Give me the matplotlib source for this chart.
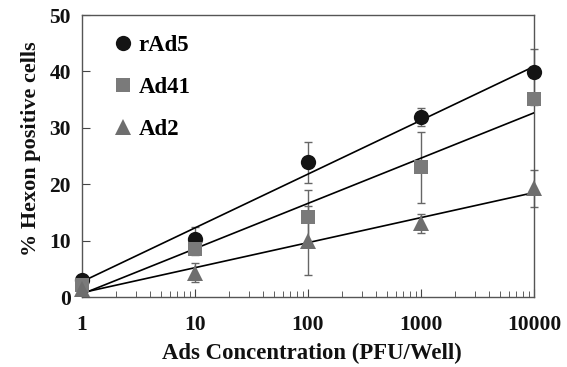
import numpy as np
import matplotlib
matplotlib.use("Agg")
import matplotlib.pyplot as plt
from matplotlib.ticker import LogLocator, NullFormatter, FixedLocator

conc = [1, 10, 100, 1000, 10000]
rad5 = [3.0, 10.3, 23.9, 31.9, 39.9]
rad5_err = [0.6, 2.1, 3.6, 1.6, 4.1]
ad41 = [2.2, 8.5, 14.2, 23.0, 35.1]
ad41_err = [0.5, 1.0, 4.8, 6.3, 1.0]
ad2 = [1.5, 4.3, 10.0, 13.1, 19.3]
ad2_err = [0.5, 1.7, 6.1, 1.7, 3.3]
series_names = ["rAd5", "Ad41", "Ad2"]
xtick_labels = ["1", "10", "100", "1000", "10000"]

plt.rcParams['font.family'] = ['Liberation Serif', 'DejaVu Serif']
plt.rcParams['font.weight'] = 'bold'

fig = plt.figure(figsize=(5.67, 3.67), dpi=100)
ax = fig.add_axes([0.1446, 0.1907, 0.7972, 0.7683])

styles = [
    dict(marker='o', color='#141414', ms=11),
    dict(marker='s', color='#7a7a7a', ms=10.5),
    dict(marker='^', color='#6e6e6e', ms=11),
]
data = [(rad5, rad5_err), (ad41, ad41_err), (ad2, ad2_err)]
x = np.array(conc, dtype=float)
lx = np.log10(x)

for (vals, errs), st in zip(data, styles):
    ax.errorbar(x, vals, yerr=errs, fmt='none', ecolor='#666666', elinewidth=1,
                capsize=3, capthick=1, zorder=2, clip_on=False)
for (vals, errs), st in zip(data, styles):
    m, b = np.polyfit(lx, vals, 1)
    ax.plot(x, m * lx + b, color='black', lw=1.2, zorder=3)
for (vals, errs), st, name in zip(data, styles, series_names):
    ax.plot(x, vals, linestyle='none', marker=st['marker'], color=st['color'],
            ms=st['ms'], markeredgewidth=0, zorder=4, label=name, clip_on=False)

ax.set_xscale('log')
ax.set_xlim(1, 10000)
ax.set_ylim(0, 50)
ax.xaxis.set_major_locator(FixedLocator(conc))
ax.set_xticklabels(xtick_labels)
ax.xaxis.set_minor_locator(LogLocator(base=10, subs=np.arange(2, 10)))
ax.xaxis.set_minor_formatter(NullFormatter())
ax.set_yticks([0, 10, 20, 30, 40, 50])
ax.tick_params(axis='both', which='both', direction='in', colors='#444444',
               labelcolor='#111111', labelsize=15.5)
ax.tick_params(axis='x', which='major', length=6, pad=13)
ax.tick_params(axis='x', which='minor', length=4)
ax.tick_params(axis='y', which='major', length=6, pad=8)
for lab in ax.get_xticklabels() + ax.get_yticklabels():
    lab.set_fontweight('bold')
for sp in ax.spines.values():
    sp.set_color('#555555')
    sp.set_linewidth(1)

ax.set_xlabel('Ads Concentration (PFU/Well)', fontsize=16.4, fontweight='bold',
              color='#111111')
ax.set_ylabel('% Hexon positive cells', fontsize=16, fontweight='bold',
              color='#111111')
ax.xaxis.set_label_coords(0.509, -0.163)
ax.yaxis.set_label_coords(-0.091, 0.527)

leg = ax.legend(loc='upper left', frameon=False, handlelength=0.7,
                handletextpad=0.3, labelspacing=0.92, borderaxespad=0.0,
                borderpad=0.0, bbox_to_anchor=(0.074, 0.93),
                prop={'weight': 'bold', 'size': 16.5})

fig.savefig('out.png', dpi=100)
